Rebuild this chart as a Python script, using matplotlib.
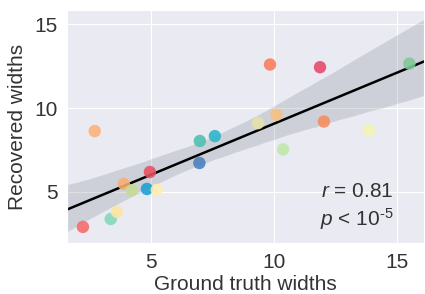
import matplotlib

matplotlib.use("Agg")
import matplotlib.pyplot as plt  # noqa: E402
import numpy as np  # noqa: E402
import seaborn as sns  # noqa: E402

# Valores
verdad = [2.24, 3.37, 3.62, 3.90, 4.23, 4.84, 4.96, 5.24, 6.97, 6.99,
          7.60, 9.35, 10.10, 9.84, 11.87, 12.03, 13.85, 15.50, 10.37, 2.72]
recuperado = [2.92, 3.39, 3.81, 5.48, 5.10, 5.18, 6.19, 5.12, 6.73, 8.04,
              8.33, 9.10, 9.60, 12.60, 12.44, 9.20, 8.67, 12.65, 7.54, 8.63]
colores = ["#f76a6a", "#7fd8b8", "#fde6a0", "#f6b070", "#c5dc90", "#1a9fd0",
           "#e8505f", "#fdeeb0", "#4a7fbf", "#4cbfb0", "#28b5c8", "#e6e4a8",
           "#f6c080", "#fb7c5c", "#e8466a", "#f88c5c", "#f2f5b0", "#80c894",
           "#bfe8a8", "#fdb07a"]
xticks = [5, 10, 15]
yticks = [5, 10, 15]

sns.set_style("darkgrid")
plt.rcParams["font.family"] = ["Liberation Sans", "DejaVu Sans"]
plt.rcParams["mathtext.fontset"] = "custom"
plt.rcParams["mathtext.rm"] = "Liberation Sans"
plt.rcParams["mathtext.it"] = "Liberation Sans:italic"

_TXT = "#333333"

fig = plt.figure(figsize=(4.25, 2.94), dpi=100)
ax = fig.add_axes([0.158, 0.173, 0.84, 0.793])
ax.set_xlim(1.6, 16.1)
ax.set_ylim(1.95, 15.85)

ax.scatter(verdad, recuperado, c=colores, s=80, alpha=0.88, linewidths=0, zorder=3)
sns.regplot(x=np.array(verdad), y=np.array(recuperado), ax=ax, scatter=False,
            truncate=False, color="black", seed=0, line_kws={"lw": 1.8})
# banda de confianza más clara, gris azulado
banda = ax.collections[-1]
banda.set_facecolor("#7a8590")
banda.set_alpha(0.25)

ax.set_xticks(xticks)
ax.set_yticks(yticks)
ax.tick_params(labelsize=15, colors=_TXT)
ax.set_xlabel("Ground truth widths", fontsize=15, color=_TXT, labelpad=2)
ax.set_ylabel("Recovered widths", fontsize=15, color=_TXT, labelpad=5)

ax.text(14.85, 5.05, "$r$ = 0.81", fontsize=15, ha="right", va="center", color=_TXT)
ax.text(14.85, 3.4, r"$p$ < 10$^{\text{-5}}$", fontsize=15, ha="right", va="center",
        color=_TXT)

fig.savefig("out.png", dpi=100)
